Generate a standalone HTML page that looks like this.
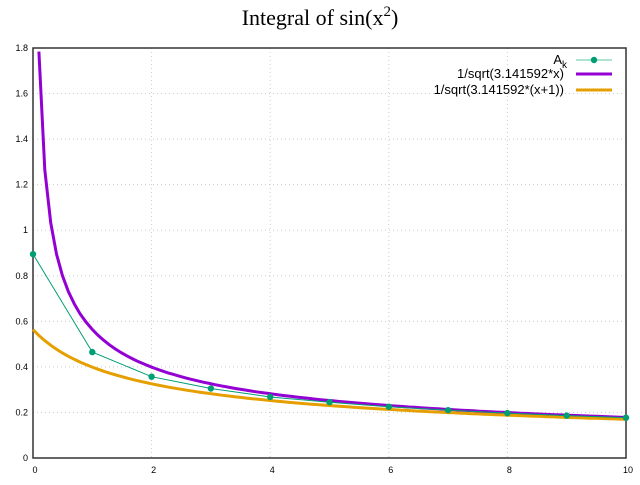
<!DOCTYPE html>
<html><head><meta charset="utf-8"><style>
body{margin:0;background:#fff}
svg text{font-family:"Liberation Sans",sans-serif}
</style></head><body>
<svg id="chart" width="640" height="480"></svg>
<script>
const xTicks=[0,2,4,6,8,10];
const yTicks=[0,0.2,0.4,0.6,0.8,1,1.2,1.4,1.6,1.8];
const yTickLabels=["0","0.2","0.4","0.6","0.8","1","1.2","1.4","1.6","1.8"];
const kValues=[0,1,2,3,4,5,6,7,8,9,10];
const akValues=[0.895,0.465,0.357,0.305,0.268,0.245,0.225,0.21,0.197,0.186,0.177];
const PI_CONST=3.141592;
const L=33,R=626,T=48,B=458;
const sx=v=>L+(R-L)*v/10, sy=v=>B-(B-T)*v/1.8;
const svg=document.getElementById('chart');
const NS='http://www.w3.org/2000/svg';
function mk(t,a,p){const e=document.createElementNS(NS,t);for(const k in a)e.setAttribute(k,a[k]);(p||svg).appendChild(e);return e;}
const title=mk('text',{x:320,y:25,'text-anchor':'middle','font-size':22,style:'font-family:"Liberation Serif",serif'});


title.innerHTML='Integral of sin(x<tspan dy="-9" font-size="15">2</tspan><tspan dy="9">)</tspan>';
xTicks.forEach(v=>{
 const g=mk('line',{x1:sx(v),x2:sx(v),y1:T,y2:B,stroke:'#ccc','stroke-dasharray':'1,3'});
 
 
 const t=mk('text',{x:sx(v)+2,y:B+15,'text-anchor':'middle','font-size':9});
 
 
 t.textContent=v;
});
yTicks.forEach((v,i)=>{
 const g=mk('line',{x1:L,x2:R,y1:sy(v),y2:sy(v),stroke:'#ccc','stroke-dasharray':'1,3'});
 
 
 const t=mk('text',{x:L-5,y:sy(v)+3,'text-anchor':'end','font-size':9});
 
 
 t.textContent=yTickLabels[i];
});
const frame=mk('rect',{x:L,y:T,width:R-L,height:B-T,fill:'none',stroke:'#333','stroke-width':1.5});


function curve(f,x0,col,name){
 let d='';for(let i=0;i<=100;i++){const x=x0+(10-x0)*i/100;const y=f(x);d+=(i?'L':'M')+sx(x).toFixed(1)+','+sy(y).toFixed(1);}
 const p=mk('path',{d,fill:'none',stroke:col,'stroke-width':3});
 
 
}
curve(x=>1/Math.sqrt(PI_CONST*x),0.1,'#9400d3','curve-inv-sqrt-pi-x');
curve(x=>1/Math.sqrt(PI_CONST*(x+1)),0,'#e69f00','curve-inv-sqrt-pi-x-plus-1');
const ak=mk('polyline',{points:kValues.map((k,i)=>sx(k)+','+sy(akValues[i])).join(' '),fill:'none',stroke:'#009e73','stroke-width':1});


kValues.forEach((k,i)=>{
 const c=mk('circle',{cx:sx(k),cy:sy(akValues[i]),r:3.2,fill:'#009e73'});
 
 
});
const lg=mk('g',{});


const t1=mk('text',{x:567,y:64,'text-anchor':'end','font-size':13},lg);
t1.innerHTML='A<tspan dy="4" font-size="10">k</tspan>';
mk('line',{x1:576,x2:612,y1:60,y2:60,stroke:'#5fc9a6','stroke-width':1},lg);
mk('circle',{cx:594,cy:60,r:3.2,fill:'#009e73'},lg);
const t2=mk('text',{x:564,y:78,'text-anchor':'end','font-size':13},lg);t2.textContent='1/sqrt(3.141592*x)';
mk('line',{x1:576,x2:612,y1:74,y2:74,stroke:'#9400d3','stroke-width':3},lg);
const t3=mk('text',{x:564,y:94,'text-anchor':'end','font-size':13},lg);t3.textContent='1/sqrt(3.141592*(x+1))';
mk('line',{x1:576,x2:612,y1:90,y2:90,stroke:'#e69f00','stroke-width':3},lg);
</script>
</body></html>
